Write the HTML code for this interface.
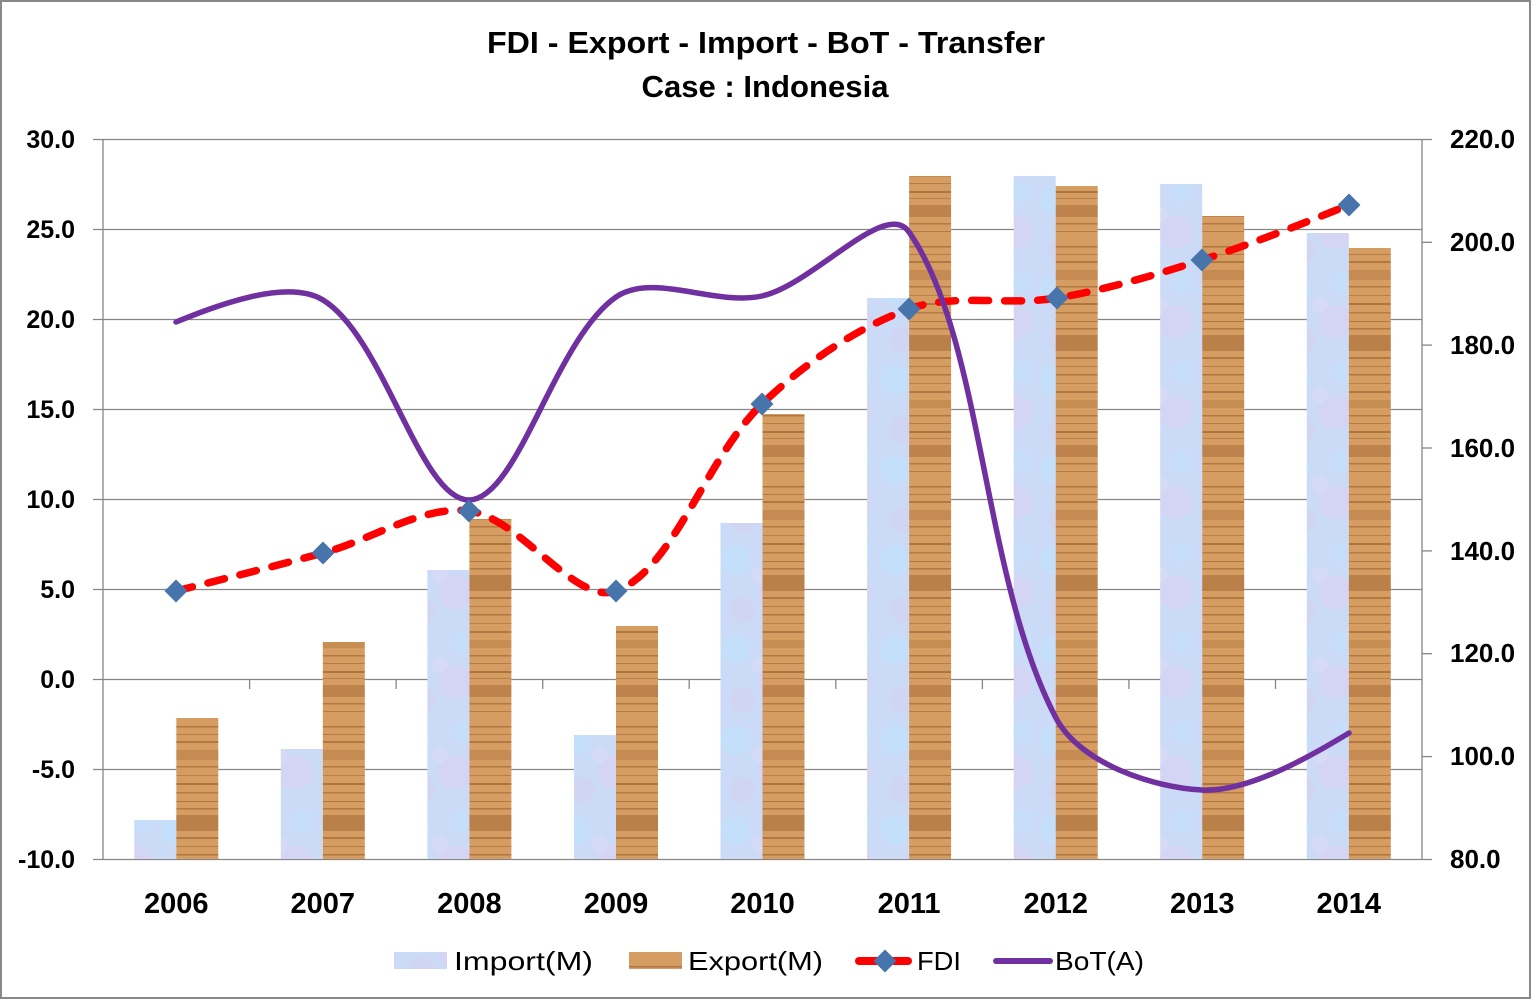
<!DOCTYPE html>
<html>
<head>
<meta charset="utf-8">
<style>
html,body{margin:0;padding:0;background:#fff;}
svg{display:block;}
text{font-family:"Liberation Sans",Arial,sans-serif;fill:#000;}
</style>
</head>
<body>
<svg width="1532" height="1001" viewBox="0 0 1532 1001" xmlns="http://www.w3.org/2000/svg">
<defs>
  <pattern id="imp" patternUnits="userSpaceOnUse" width="80" height="90">
    <rect width="80" height="90" fill="#cbdaf6"/>
    <circle cx="15" cy="20" r="15" fill="#bfe3fb" opacity=".6"/>
    <circle cx="55" cy="52" r="17" fill="#dad0f4" opacity=".6"/>
    <circle cx="62" cy="12" r="11" fill="#c2e1fb" opacity=".5"/>
    <circle cx="22" cy="70" r="13" fill="#d6cff2" opacity=".5"/>
    <circle cx="40" cy="35" r="8" fill="#e3dbf6" opacity=".4"/>
  </pattern>
  <pattern id="wood" patternUnits="userSpaceOnUse" width="10" height="240">
    <rect width="10" height="240" fill="#d59d62"/>
    <rect y="30" width="10" height="10" fill="#a86a35" opacity=".35"/>
    <rect y="95" width="10" height="16" fill="#9a5d2b" opacity=".45"/>
    <rect y="160" width="10" height="8" fill="#a86a35" opacity=".3"/>
    <rect y="205" width="10" height="12" fill="#9a5d2b" opacity=".4"/>
    <rect y="6" width="10" height="1.5" fill="#8e5426" opacity=".55"/>
    <rect y="14" width="10" height="1" fill="#8e5426" opacity=".45"/>
    <rect y="21" width="10" height="2" fill="#8e5426" opacity=".5"/>
    <rect y="46" width="10" height="1.5" fill="#8e5426" opacity=".5"/>
    <rect y="55" width="10" height="1" fill="#8e5426" opacity=".4"/>
    <rect y="63" width="10" height="2" fill="#8e5426" opacity=".55"/>
    <rect y="72" width="10" height="1.5" fill="#8e5426" opacity=".45"/>
    <rect y="81" width="10" height="1" fill="#8e5426" opacity=".5"/>
    <rect y="88" width="10" height="1.5" fill="#8e5426" opacity=".5"/>
    <rect y="117" width="10" height="2" fill="#8e5426" opacity=".5"/>
    <rect y="126" width="10" height="1" fill="#8e5426" opacity=".45"/>
    <rect y="134" width="10" height="1.5" fill="#8e5426" opacity=".55"/>
    <rect y="143" width="10" height="1" fill="#8e5426" opacity=".4"/>
    <rect y="151" width="10" height="2" fill="#8e5426" opacity=".5"/>
    <rect y="175" width="10" height="1.5" fill="#8e5426" opacity=".5"/>
    <rect y="183" width="10" height="1" fill="#8e5426" opacity=".45"/>
    <rect y="191" width="10" height="2" fill="#8e5426" opacity=".55"/>
    <rect y="198" width="10" height="1" fill="#8e5426" opacity=".4"/>
    <rect y="223" width="10" height="1.5" fill="#8e5426" opacity=".5"/>
    <rect y="231" width="10" height="1" fill="#8e5426" opacity=".45"/>
  </pattern>
</defs>

<!-- outer border -->
<rect x="1" y="1" width="1529" height="997" fill="#fff" stroke="#898989" stroke-width="2"/>

<!-- title -->
<text x="766" y="53" font-size="31" font-weight="bold" text-anchor="middle" textLength="558" lengthAdjust="spacingAndGlyphs">FDI - Export - Import - BoT - Transfer</text>
<text x="765" y="97" font-size="31" font-weight="bold" text-anchor="middle" textLength="247" lengthAdjust="spacingAndGlyphs">Case : Indonesia</text>

<!-- gridlines -->
<g stroke="#868686" stroke-width="1.3">
  <line x1="93" y1="139.5" x2="1432" y2="139.5"/>
  <line x1="93" y1="229.5" x2="1422" y2="229.5"/>
  <line x1="93" y1="319.5" x2="1422" y2="319.5"/>
  <line x1="93" y1="409.5" x2="1422" y2="409.5"/>
  <line x1="93" y1="499.5" x2="1422" y2="499.5"/>
  <line x1="93" y1="589.5" x2="1422" y2="589.5"/>
  <line x1="93" y1="679.5" x2="1422" y2="679.5"/>
  <line x1="93" y1="769.5" x2="1422" y2="769.5"/>
  <line x1="93" y1="859.5" x2="1432" y2="859.5"/>
  <line x1="103" y1="139" x2="103" y2="860"/>
  <line x1="1422" y1="139" x2="1422" y2="860"/>
  <line x1="1422" y1="242.3" x2="1432" y2="242.3"/>
  <line x1="1422" y1="345.1" x2="1432" y2="345.1"/>
  <line x1="1422" y1="448" x2="1432" y2="448"/>
  <line x1="1422" y1="550.9" x2="1432" y2="550.9"/>
  <line x1="1422" y1="653.7" x2="1432" y2="653.7"/>
  <line x1="1422" y1="756.6" x2="1432" y2="756.6"/>
  <line x1="249.6" y1="679" x2="249.6" y2="689"/>
  <line x1="396.1" y1="679" x2="396.1" y2="689"/>
  <line x1="542.7" y1="679" x2="542.7" y2="689"/>
  <line x1="689.2" y1="679" x2="689.2" y2="689"/>
  <line x1="835.8" y1="679" x2="835.8" y2="689"/>
  <line x1="982.4" y1="679" x2="982.4" y2="689"/>
  <line x1="1128.9" y1="679" x2="1128.9" y2="689"/>
  <line x1="1275.5" y1="679" x2="1275.5" y2="689"/>
</g>

<!-- import bars -->
<g fill="url(#imp)">
  <rect x="134.3" y="820" width="42" height="39"/>
  <rect x="280.8" y="749" width="42" height="110"/>
  <rect x="427.4" y="570" width="42" height="289"/>
  <rect x="574" y="735" width="42" height="124"/>
  <rect x="720.5" y="523" width="42" height="336"/>
  <rect x="867.1" y="298" width="42" height="561"/>
  <rect x="1013.7" y="176" width="42" height="683"/>
  <rect x="1160.2" y="184" width="42" height="675"/>
  <rect x="1306.8" y="233" width="42" height="626"/>
</g>
<!-- export bars -->
<g fill="url(#wood)">
  <rect x="176.3" y="718" width="42" height="141"/>
  <rect x="322.8" y="642" width="42" height="217"/>
  <rect x="469.4" y="519" width="42" height="340"/>
  <rect x="616" y="626" width="42" height="233"/>
  <rect x="762.5" y="414" width="42" height="445"/>
  <rect x="909.1" y="176" width="42" height="683"/>
  <rect x="1055.7" y="186" width="42" height="673"/>
  <rect x="1202.2" y="216" width="42" height="643"/>
  <rect x="1348.8" y="248" width="42" height="611"/>
</g>

<!-- FDI line -->
<path d="M176,591 C208.7,582.8 274.2,566.3 323,553 C371.8,539.7 422.5,505 469,511 C520.2,517.6 575.6,605.8 616,591 C673.3,570.1 705.8,458.1 762,404 C803.5,364.1 855.8,328.1 909,309 C954.1,292.8 1008.4,306.1 1057,298 C1106.1,289.8 1154.5,275.1 1202,260 C1251.8,244.1 1316.6,218 1349,205"
  fill="none" stroke="#ff0000" stroke-width="7.5" stroke-linecap="round" stroke-dasharray="17 16"/>

<!-- BoT line -->
<path d="M176,322 C213,307 286.4,277.7 323,300 C384,337.1 420.4,500.5 469,500 C518.1,499.5 554.3,340 616,297 C652,272 715.4,306.3 762,296 C813.1,284.7 885.5,198.2 909,232 C983.5,338.9 982,577.2 1056,718 C1079.7,763.1 1152.4,787.5 1202,790 C1250.1,792.5 1316,752.8 1349,733"
  fill="none" stroke="#7030a0" stroke-width="5.5" stroke-linecap="round"/>

<!-- FDI markers -->
<g fill="#4674ab">
  <path d="M176,579.5 L187.5,591 L176,602.5 L164.5,591 Z"/>
  <path d="M323,541.5 L334.5,553 L323,564.5 L311.5,553 Z"/>
  <path d="M469,499.5 L480.5,511 L469,522.5 L457.5,511 Z"/>
  <path d="M616,579.5 L627.5,591 L616,602.5 L604.5,591 Z"/>
  <path d="M762,392.5 L773.5,404 L762,415.5 L750.5,404 Z"/>
  <path d="M909,297.5 L920.5,309 L909,320.5 L897.5,309 Z"/>
  <path d="M1057,286.5 L1068.5,298 L1057,309.5 L1045.5,298 Z"/>
  <path d="M1202,248.5 L1213.5,260 L1202,271.5 L1190.5,260 Z"/>
  <path d="M1349,193.5 L1360.5,205 L1349,216.5 L1337.5,205 Z"/>
</g>

<!-- left axis labels -->
<g font-size="25" font-weight="bold" text-anchor="end">
  <text x="75" y="148">30.0</text>
  <text x="75" y="238">25.0</text>
  <text x="75" y="328">20.0</text>
  <text x="75" y="418">15.0</text>
  <text x="75" y="508">10.0</text>
  <text x="75" y="598">5.0</text>
  <text x="75" y="688">0.0</text>
  <text x="75" y="778">-5.0</text>
  <text x="75" y="868">-10.0</text>
</g>

<!-- right axis labels -->
<g font-size="26" font-weight="bold" text-anchor="start">
  <text x="1450" y="148">220.0</text>
  <text x="1450" y="251">200.0</text>
  <text x="1450" y="354">180.0</text>
  <text x="1450" y="457">160.0</text>
  <text x="1450" y="560">140.0</text>
  <text x="1450" y="662">120.0</text>
  <text x="1450" y="765">100.0</text>
  <text x="1450" y="868">80.0</text>
</g>

<!-- category labels -->
<g font-size="29" font-weight="bold" text-anchor="middle">
  <text x="176.3" y="913">2006</text>
  <text x="322.8" y="913">2007</text>
  <text x="469.4" y="913">2008</text>
  <text x="616" y="913">2009</text>
  <text x="762.5" y="913">2010</text>
  <text x="909.1" y="913">2011</text>
  <text x="1055.7" y="913">2012</text>
  <text x="1202.2" y="913">2013</text>
  <text x="1348.8" y="913">2014</text>
</g>

<!-- legend -->
<rect x="394" y="952" width="53" height="17" fill="url(#imp)"/>
<text x="454" y="970" font-size="26" textLength="139" lengthAdjust="spacingAndGlyphs">Import(M)</text>
<rect x="629" y="952" width="53" height="17" fill="url(#wood)"/>
<text x="688" y="970" font-size="26" textLength="135" lengthAdjust="spacingAndGlyphs">Export(M)</text>
<line x1="859" y1="961" x2="908" y2="961" stroke="#ff0000" stroke-width="8" stroke-linecap="round"/>
<path d="M885,949.5 L896.5,961 L885,972.5 L873.5,961 Z" fill="#4674ab"/>
<text x="917" y="970" font-size="26" textLength="44" lengthAdjust="spacingAndGlyphs">FDI</text>
<line x1="996" y1="961" x2="1050" y2="961" stroke="#7030a0" stroke-width="6" stroke-linecap="round"/>
<text x="1055" y="970" font-size="26" textLength="89" lengthAdjust="spacingAndGlyphs">BoT(A)</text>
</svg>
</body>
</html>
